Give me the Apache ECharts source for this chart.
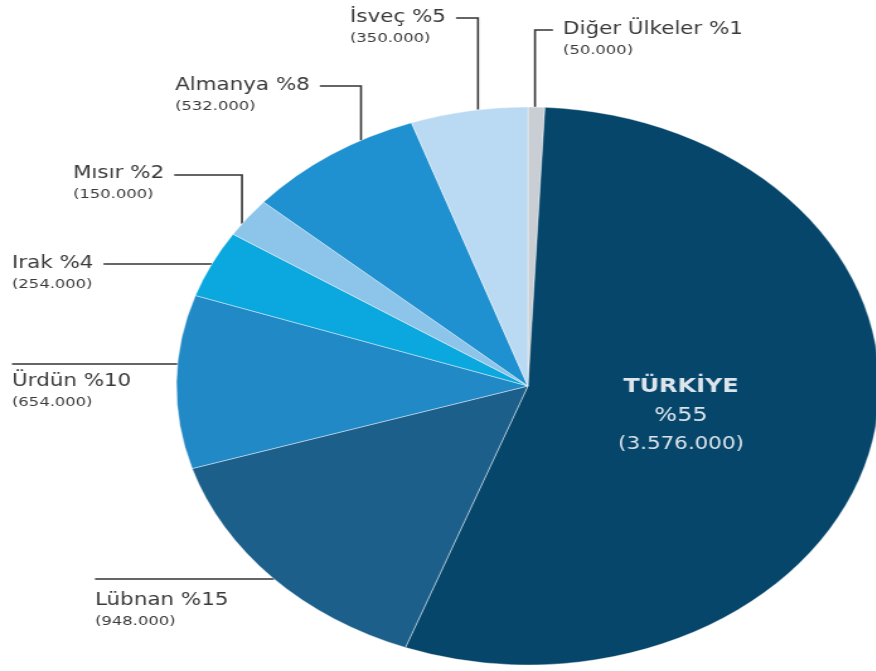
<!DOCTYPE html>
<html>
<head>
<meta charset="utf-8">
<title>Ülkelere göre dağılım</title>
<script src="https://cdn.jsdelivr.net/npm/echarts@6.0.0/dist/echarts.min.js"></script>
<style>
  html, body { margin: 0; padding: 0; background: #fff; overflow: hidden; }
  /* the source picture is stretched sideways, so the whole chart is too */
  .pie-chart { width: 696px; height: 671px; transform: scaleX(1.26); transform-origin: 0 0; }
</style>
</head>
<body>
<div class="pie-chart" id="pie"></div>
<script>
const countries = ['Diğer Ülkeler', 'Türkiye', 'Lübnan', 'Ürdün', 'Irak', 'Mısır', 'Almanya', 'İsveç'];
const refugees = [50000, 3576000, 948000, 654000, 254000, 150000, 532000, 350000];
const sliceColors = ['#c9ced4', '#06466b', '#1c5f8b', '#2189c6', '#0aa8de', '#8cc4ea', '#1f90d0', '#b9daf2'];

// where the labels sit in the picture: [text x, first line y, elbow x, leader y]
const labelSpots = [
    [563, 30, 535, 30],
    [681, 416],
    [95, 601, null, 579],
    [12, 382, null, 364],
    [12, 264, null, 264],
    [73, 174, 242, 175],
    [175, 86, 361, 86],
    [350, 18, 478, 18]
];

const SX = 1.26;
const CX = 419, CY = 386, R = 279;

function dots(v) {
    return String(v).replace(/\B(?=(\d{3})+(?!\d))/g, '.');
}

const chart = echarts.init(document.getElementById('pie'));

const option = {
    animation: false,
    backgroundColor: '#ffffff',
    series: [{
        type: 'pie',
        center: [CX, CY],
        radius: R,
        startAngle: 90,
        clockwise: true,
        avoidLabelOverlap: false,
        percentPrecision: 0,
        silent: true,
        itemStyle: {
            borderColor: 'rgba(255,255,255,0.7)',
            borderWidth: 0.6
        },
        label: {
            show: true,
            position: 'outer',
            fontFamily: 'DejaVu Sans',
            color: '#3a3a3a',
            formatter: function (p) {
                return '{a|' + p.name + ' %' + p.percent + '}\n{b|(' + dots(p.value) + ')}';
            },
            rich: {
                a: { fontFamily: 'DejaVu Sans', fontSize: 17, lineHeight: 21, color: '#3a3a3a' },
                b: { fontFamily: 'DejaVu Sans', fontSize: 13, lineHeight: 21, color: '#3a3a3a' }
            }
        },
        labelLine: {
            show: true,
            lineStyle: { color: '#333333', width: 1.6 }
        },
        labelLayout: function (p) {
            const i = p.dataIndex;
            const s = labelSpots[i];
            if (!s[2] && s.length === 2) {
                return { x: s[0] / SX, y: s[1], align: 'center', verticalAlign: 'middle' };
            }
            const w = p.labelRect.width;
            const tx = s[0] / SX;
            const ly = s[3];
            const gap = 8;
            let pts;
            if (s[2] != null) {
                const ex = s[2] / SX;
                const ay = CY - Math.sqrt(R * R - (ex - CX) * (ex - CX));
                const endX = tx > ex ? tx - gap : tx + w + gap;
                pts = [[ex, ay], [ex, ly], [endX, ly]];
            } else {
                const ax = CX - Math.sqrt(R * R - (ly - CY) * (ly - CY));
                const startX = Math.abs(s[1] - ly) < 2 ? tx + w + gap : tx;
                pts = [[ax, ly], [(ax + startX) / 2, ly], [startX, ly]];
            }
            return {
                x: tx,
                y: s[1] - 10.5,
                align: 'left',
                verticalAlign: 'top',
                labelLinePoints: pts
            };
        },
        data: countries.map(function (name, i) {
            const item = {
                name: name,
                value: refugees[i],
                itemStyle: { color: sliceColors[i] }
            };
            if (i === 1) {
                item.label = {
                    position: 'inside',
                    formatter: function (p) {
                        return '{t|' + p.name.replace(/i/g, 'İ').toUpperCase() + '}\n{p|%' + p.percent + '}\n{v|(' + dots(p.value) + ')}';
                    },
                    rich: {
                        t: { fontFamily: 'DejaVu Sans', fontSize: 19, fontWeight: 'bold', lineHeight: 29, color: '#dde5ec' },
                        p: { fontFamily: 'DejaVu Sans', fontSize: 19, lineHeight: 29, color: '#dde5ec' },
                        v: { fontFamily: 'DejaVu Sans', fontSize: 17, lineHeight: 29, color: '#dde5ec' }
                    }
                };
                item.labelLine = { show: false };
            }
            return item;
        })
    }]
};

chart.setOption(option);
</script>
</body>
</html>
